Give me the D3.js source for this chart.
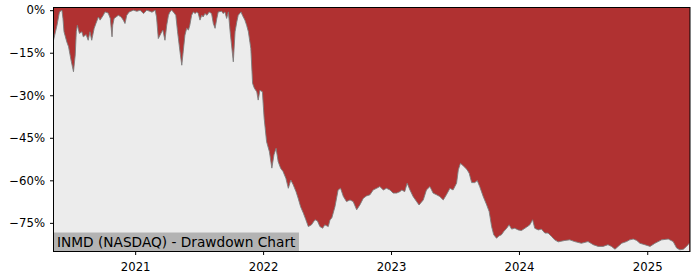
<!DOCTYPE html>
<html>
<head>
<meta charset="utf-8">
<script src="https://cdn.jsdelivr.net/npm/d3@7"></script>
<style>
  body { margin: 0; background: #fff; }
  svg { display: block; font-family: "DejaVu Sans", sans-serif; }
</style>
</head>
<body>
<script>
// drawdown (date, % below previous high)
const dates = [
  '2020-05-13','2020-05-23','2020-05-30','2020-06-06','2020-06-09','2020-06-12','2020-06-20','2020-06-25',
  '2020-07-02','2020-07-09','2020-07-14','2020-07-17','2020-07-20','2020-07-26','2020-08-02','2020-08-06',
  '2020-08-14','2020-08-20','2020-08-25','2020-08-30','2020-09-06','2020-09-11','2020-09-18','2020-09-23',
  '2020-10-02','2020-10-07','2020-10-16','2020-10-22','2020-10-27','2020-10-29','2020-11-02','2020-11-14',
  '2020-11-22','2020-11-28','2020-12-03','2020-12-08','2020-12-15','2020-12-27','2021-01-06','2021-01-15',
  '2021-01-25','2021-02-03','2021-02-12','2021-02-18','2021-02-27','2021-03-03','2021-03-08','2021-03-18',
  '2021-03-21','2021-03-27','2021-04-01','2021-04-06','2021-04-10','2021-04-15','2021-04-20','2021-04-27',
  '2021-05-02','2021-05-09','2021-05-14','2021-05-18','2021-05-23','2021-05-28','2021-06-02','2021-06-06',
  '2021-06-11','2021-06-16','2021-06-21','2021-06-26','2021-06-30','2021-07-05','2021-07-10','2021-07-14',
  '2021-07-19','2021-07-25','2021-07-31','2021-08-07','2021-08-12','2021-08-17','2021-08-22','2021-08-26',
  '2021-09-05','2021-09-09','2021-09-14','2021-09-19','2021-09-24','2021-09-29','2021-10-03','2021-10-08',
  '2021-10-13','2021-10-18','2021-10-22','2021-10-30','2021-11-03','2021-11-10','2021-11-15','2021-11-20',
  '2021-11-27','2021-12-02','2021-12-07','2021-12-14','2021-12-18','2021-12-23','2021-12-30','2022-01-04',
  '2022-01-11','2022-01-19','2022-01-26','2022-02-01','2022-02-07','2022-02-13','2022-02-20','2022-02-27',
  '2022-03-07','2022-03-14','2022-03-21','2022-03-28','2022-04-05','2022-04-11','2022-04-18','2022-04-26',
  '2022-05-03','2022-05-10','2022-05-19','2022-05-29','2022-06-05','2022-06-12','2022-06-20','2022-06-26',
  '2022-07-06','2022-07-11','2022-07-16','2022-07-25','2022-08-03','2022-08-10','2022-08-18','2022-08-27',
  '2022-09-06','2022-09-15','2022-09-25','2022-10-04','2022-10-14','2022-10-23','2022-11-02','2022-11-11',
  '2022-11-21','2022-11-30','2022-12-10','2022-12-19','2022-12-29','2023-01-07','2023-01-17','2023-01-26',
  '2023-02-01','2023-02-09','2023-02-16','2023-02-24','2023-03-05','2023-03-15','2023-03-22','2023-04-03',
  '2023-04-12','2023-04-22','2023-05-01','2023-05-11','2023-05-20','2023-05-30','2023-06-08','2023-06-18',
  '2023-06-27','2023-07-07','2023-07-12','2023-07-18','2023-07-26','2023-08-05','2023-08-12','2023-08-19',
  '2023-08-28','2023-09-04','2023-09-11','2023-09-21','2023-10-01','2023-10-08','2023-10-15','2023-10-21',
  '2023-10-29','2023-11-05','2023-11-12','2023-11-19','2023-11-27','2023-12-04','2023-12-11','2023-12-20',
  '2023-12-30','2024-01-08','2024-01-23','2024-02-01','2024-02-09','2024-02-15','2024-02-25','2024-03-05',
  '2024-03-15','2024-03-24','2024-04-03','2024-04-12','2024-04-22','2024-05-11','2024-05-25','2024-06-08',
  '2024-06-27','2024-07-16','2024-07-31','2024-08-14','2024-08-28','2024-09-11','2024-09-21','2024-10-01',
  '2024-10-10','2024-10-20','2024-11-03','2024-11-12','2024-11-22','2024-12-02','2024-12-11','2024-12-25',
  '2025-01-09','2025-01-23','2025-02-11','2025-03-02','2025-03-16','2025-03-26','2025-04-04','2025-04-14',
  '2025-04-23','2025-05-01'
];
const drawdown = [
  -10.6,-5.3,-0.6,0,-2.9,-7.6,-11.2,-12.9,
  -17.6,-21.7,-15.8,-7.6,-5.3,-8.2,-7.6,-9.4,
  -8.6,-10.6,-7.6,-10.6,-6.4,-4.7,-2.4,-3.5,
  -1.8,-0.6,-1.0,-2.9,-9.4,-5.3,-2.9,-1.8,
  -2.4,-3.5,-4.7,-1.8,-0.6,0,-0.4,0,
  -1.2,0,-0.4,-0.7,0,-2.4,-10.0,-7.6,
  -7.0,-10.6,-5.3,-1.8,-0.6,0,-0.6,-1.8,
  -7.6,-14.7,-19.4,-14.7,-8.8,-6.4,-7.0,-5.3,
  -1.8,-0.6,-1.2,-0.6,-1.2,-3.5,-1.8,-2.4,
  -1.2,-1.8,-0.6,-1.2,-4.7,-6.4,-2.9,-0.6,
  -0.4,-1.2,-0.6,-2.9,-0.6,-7.6,-12.3,-18.2,
  -7.6,-4.1,-1.8,-0.6,-1.8,-3.5,-5.3,-7.6,
  -13.5,-25.8,-27.5,-28.8,-31.7,-28.2,-28.8,-38.1,
  -46.4,-49.9,-55.7,-51.0,-48.7,-53.4,-55.7,-56.9,
  -59.3,-62.8,-59.9,-61.6,-64.0,-66.3,-69.3,-71.6,
  -73.9,-76.3,-75.7,-73.9,-74.3,-76.3,-76.9,-75.7,
  -76.3,-73.9,-73.3,-69.3,-63.4,-62.8,-65.7,-67.5,
  -66.9,-67.5,-70.4,-68.7,-66.3,-65.5,-65.1,-63.4,
  -62.8,-62.2,-63.4,-62.8,-63.4,-64.5,-64.5,-64.0,
  -63.4,-64.0,-61.0,-63.4,-65.7,-67.5,-68.7,-66.9,
  -63.4,-62.2,-64.5,-65.1,-65.7,-66.9,-65.1,-62.8,
  -63.4,-61.0,-56.3,-54.0,-54.9,-56.1,-57.5,-60.8,
  -60.8,-60.1,-62.2,-65.7,-68.7,-71.0,-76.3,-79.2,
  -80.4,-79.6,-79.2,-78.0,-76.9,-75.7,-77.2,-76.9,
  -77.5,-77.7,-76.5,-75.7,-73.9,-76.9,-77.5,-77.2,
  -78.6,-78.6,-79.8,-81.0,-81.7,-81.2,-81.0,-81.6,
  -82.2,-81.6,-82.7,-83.3,-83.3,-82.7,-83.3,-84.3,
  -83.3,-82.2,-81.6,-81.0,-80.7,-81.2,-82.2,-82.7,
  -83.3,-82.2,-81.0,-80.7,-81.6,-83.9,-84.5,-84.3,
  -83.3,-82.2
];
const yTicks = [0, -15, -30, -45, -60, -75];
const xTicks = ['2021-01-01', '2022-01-01', '2023-01-01', '2024-01-01', '2025-01-01'];
const xRange = ['2020-05-13', '2025-05-03'];
const yRange = [-85.1, 0.95];
const title = 'INMD (NASDAQ) - Drawdown Chart';

const w = 700;
const h = 280;
const margin = { top: 7.5, right: 10, bottom: 28.5, left: 53.5 };

const parse = d3.timeParse('%Y-%m-%d');
const rows = d3.zip(dates, drawdown).map(([d, v]) => ({ date: parse(d), dd: v }));

const xScale = d3.scaleTime()
  .domain(xRange.map(parse))
  .range([margin.left, w - margin.right]);

const yScale = d3.scaleLinear()
  .domain(yRange)
  .range([h - margin.bottom, margin.top]);

const svg = d3.select('body')
  .append('svg')
  .attr('width', w)
  .attr('height', h);

svg.append('defs').append('clipPath')
  .attr('id', 'plot')
  .append('rect')
  .attr('x', margin.left)
  .attr('y', margin.top)
  .attr('width', w - margin.left - margin.right)
  .attr('height', h - margin.top - margin.bottom);

const plot = svg.append('g').attr('clip-path', 'url(#plot)');

// red above the curve, light grey below it
plot.append('rect')
  .attr('x', margin.left)
  .attr('y', margin.top)
  .attr('width', w - margin.left - margin.right)
  .attr('height', h - margin.top - margin.bottom)
  .attr('fill', '#b03131');

const area = d3.area()
  .x(d => xScale(d.date))
  .y0(yScale(yRange[0]))
  .y1(d => yScale(d.dd));

plot.append('path')
  .datum(rows)
  .attr('fill', '#ececec')
  .attr('d', area);

const line = d3.line()
  .x(d => xScale(d.date))
  .y(d => yScale(d.dd));

plot.append('path')
  .datum(rows)
  .attr('fill', 'none')
  .attr('stroke', '#7d7d7d')
  .attr('stroke-width', 0.9)
  .attr('d', line);

// label box in the lower left corner
const label = svg.append('g');
const labelText = label.append('text')
  .attr('x', margin.left + 3.5)
  .attr('y', h - margin.bottom - 5)
  .attr('font-size', 13.7)
  .attr('fill', '#000')
  .text(title);
const tw = labelText.node().getComputedTextLength();
label.insert('rect', 'text')
  .attr('x', margin.left)
  .attr('y', h - margin.bottom - 19)
  .attr('width', tw + 7)
  .attr('height', 19)
  .attr('fill', '#b3b3b3');

/**
 * AXES
 */
const fmt = d => d === 0 ? '0%' : '\u2212' + Math.abs(d) + '%';

const yAxis = d3.axisLeft(yScale)
  .tickValues(yTicks)
  .tickFormat(fmt)
  .tickSize(3.5)
  .tickPadding(5);

const xAxis = d3.axisBottom(xScale)
  .tickValues(xTicks.map(parse))
  .tickFormat(d3.timeFormat('%Y'))
  .tickSize(3.5)
  .tickPadding(7.5);

svg.append('g')
  .attr('class', 'y-axis')
  .attr('transform', `translate(${margin.left},0)`)
  .call(yAxis);

svg.append('g')
  .attr('class', 'x-axis')
  .attr('transform', `translate(0,${h - margin.bottom})`)
  .call(xAxis);

svg.selectAll('.domain').remove();
svg.selectAll('.tick line').attr('stroke', '#000').attr('stroke-width', 1);
svg.selectAll('.tick text')
  .attr('font-size', 11.7)
  .attr('fill', '#000')
  .attr('font-family', '"DejaVu Sans", sans-serif');

// frame
svg.append('rect')
  .attr('x', margin.left)
  .attr('y', margin.top)
  .attr('width', w - margin.left - margin.right)
  .attr('height', h - margin.top - margin.bottom)
  .attr('fill', 'none')
  .attr('stroke', '#000')
  .attr('stroke-width', 1);
</script>
</body>
</html>
